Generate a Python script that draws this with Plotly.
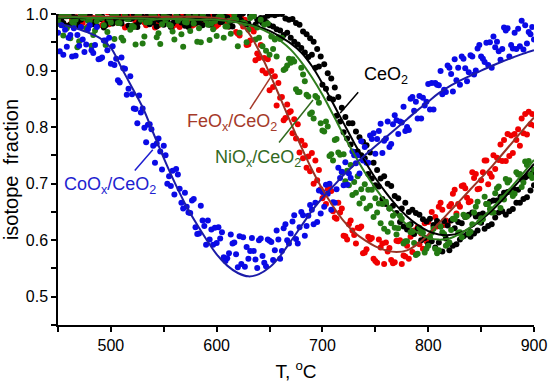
import plotly.graph_objects as go

# Temperatures (°C) of the three interleaved measurement grids and of the fit curves
T_A = list(range(450, 901, 5))
T_B = [round(t + 5 / 3, 2) for t in range(450, 900, 5)]
T_C = [round(t + 10 / 3, 2) for t in range(450, 900, 5)]
T_FIT = list(range(450, 901, 10))

# CoOx/CeO2 (blue)
BLUE_A = [.967, .928, .958, .975, .944, .933, .98, .945, .921, .953,
          .912, .921, .923, .857, .858, .807, .833, .804, .767, .78,
          .767, .713, .681, .691, .684, .648, .623, .661, .592, .619,
          .595, .614, .568, .594, .552, .605, .567, .581, .60, .56,
          .599, .582, .567, .628, .612, .602, .65, .625, .654, .632,
          .685, .682, .667, .728, .697, .718, .75, .718, .765, .785,
          .753, .806, .78, .77, .812, .808, .80, .853, .815, .852,
          .876, .831, .874, .866, .905, .92, .875, .904, .927, .90,
          .925, .949, .905, .951, .938, .975, .939, .974, .937, .968,
          .955]
BLUE_B = [.934, .972, .963, .926, .977, .946, .936, .977, .923, .936,
          .943, .883, .904, .868, .833, .856, .799, .805, .737, .757,
          .75, .696, .726, .666, .659, .67, .611, .635, .635, .592,
          .623, .57, .577, .596, .607, .553, .581, .566, .603, .554,
          .597, .617, .581, .60, .633, .594, .644, .643, .628, .688,
          .659, .70, .666, .71, .738, .71, .736, .775, .737, .779,
          .779, .754, .81, .805, .788, .836, .795, .829, .855, .838,
          .831, .878, .899, .862, .894, .883, .925, .881, .925, .939,
          .921, .91, .96, .934, .976, .925, .967, .943, .98, .964]
BLUE_C = [.98, .942, .925, .963, .955, .973, .931, .92, .953, .958,
          .91, .879, .903, .89, .832, .826, .773, .796, .771, .725,
          .70, .723, .716, .656, .649, .673, .612, .625, .601, .622,
          .603, .563, .61, .575, .558, .588, .604, .551, .572, .601,
          .565, .601, .621, .594, .644, .623, .608, .662, .666, .647,
          .698, .654, .69, .721, .698, .757, .75, .741, .737, .789,
          .793, .776, .765, .821, .81, .793, .85, .845, .815, .845,
          .878, .875, .858, .909, .863, .905, .921, .897, .893, .945,
          .915, .95, .941, .919, .971, .945, .938, .988, .948, .977]
BLUE_FIT = [.983, .979, .973, .966, .957, .94, .905, .87, .835, .79,
            .745, .703, .665, .632, .602, .575, .555, .542, .536, .54,
            .552, .572, .598, .625, .652, .675, .695, .715, .733, .75,
            .766, .782, .798, .814, .83, .845, .86, .872, .882, .891,
            .90, .908, .916, .923, .93, .936]

# FeOx/CeO2 (red)
RED_A = [.995, .983, 1.002, .988, .979, .997, .991, .985, 1.0, .981,
         .993, .987, .999, .978, .994, .989, 1.003, .984, .996, .98,
         .992, 1.001, .986, .977, .998, .99, .983, 1.0, .988, .995,
         .979, .997, .986, .998, .965, .978, .946, .969, .922, .922,
         .865, .89, .852, .816, .828, .78, .776, .728, .754, .706,
         .674, .69, .651, .666, .608, .628, .609, .621, .578, .601,
         .563, .587, .596, .565, .599, .558, .59, .579, .623, .585,
         .632, .624, .659, .627, .66, .689, .659, .692, .669, .717,
         .706, .741, .712, .746, .74, .788, .754, .796, .789, .827,
         .803]
RED_B = [.988, 1.001, .982, .994, .977, .999, .986, .992, .98, 1.003,
         .989, .984, .997, .978, .993, 1.0, .985, .991, .976, .998,
         .987, .995, .981, 1.002, .99, .979, .996, .984, .993, .999,
         .982, .988, .978, 1.0, .962, .99, .953, .918, .945, .895,
         .899, .838, .853, .84, .789, .805, .745, .748, .70, .724,
         .68, .695, .64, .649, .607, .635, .594, .624, .584, .604,
         .56, .594, .58, .559, .598, .573, .567, .617, .593, .63,
         .601, .641, .666, .635, .664, .647, .696, .675, .72, .69,
         .72, .699, .75, .742, .777, .749, .788, .767, .823, .805]
RED_C = [.981, .996, .99, 1.004, .984, .978, .993, .999, .987, .982,
         .997, .991, .976, 1.001, .986, .994, .98, .998, .989, .983,
         1.002, .978, .992, .996, .985, .981, 1.0, .988, .994, .977,
         .991, .997, 1.001, .968, .993, .945, .975, .93, .90, .92,
         .871, .878, .812, .826, .814, .755, .768, .722, .741, .69,
         .664, .687, .638, .656, .601, .617, .622, .577, .606, .567,
         .601, .558, .586, .561, .60, .571, .606, .575, .612, .598,
         .65, .624, .654, .629, .682, .664, .697, .667, .71, .691,
         .741, .718, .726, .769, .74, .785, .777, .815, .787, .823]
RED_FIT = [.995, .995, .995, .995, .995, .995, .995, .995, .995, .995,
           .995, .995, .995, .995, .994, .993, .99, .985, .967, .935,
           .895, .852, .808, .765, .725, .69, .66, .634, .614, .60,
           .589, .582, .579, .582, .593, .61, .63, .65, .67, .69,
           .71, .73, .752, .774, .796, .817]

# NiOx/CeO2 (green)
GREEN_A = [.99, .962, .997, .983, .952, 1.0, .988, .971, .994, .945,
           .985, .998, .958, .991, .979, .996, .948, .987, .993, .966,
           .999, .981, .955, .992, .986, .97, .997, .95, .989, .983,
           .961, .995, .978, .99, .943, .985, .972, .996, .958, .981,
           .928, .955, .956, .903, .914, .867, .905, .857, .826, .852,
           .794, .801, .741, .755, .752, .697, .703, .665, .699, .661,
           .674, .63, .668, .63, .61, .638, .598, .615, .576, .613,
           .59, .62, .582, .611, .596, .637, .614, .641, .615, .659,
           .639, .664, .649, .692, .674, .702, .678, .716, .702, .74,
           .725]
GREEN_B = [.982, .996, .957, .99, .999, .975, .944, .987, .993, .968,
           .998, .984, .953, .991, .977, 1.0, .96, .986, .995, .947,
           .989, .979, .997, .964, .985, .992, .951, .998, .981, .973,
           .994, .958, .988, .999, .967, .983, .993, .955, .99, .935,
           .96, .925, .958, .909, .92, .862, .893, .854, .815, .843,
           .792, .749, .777, .751, .704, .733, .684, .69, .656, .689,
           .649, .664, .615, .643, .621, .594, .627, .595, .622, .578,
           .605, .585, .624, .59, .618, .643, .605, .642, .628, .668,
           .637, .664, .649, .695, .672, .706, .682, .717, .739, .716]
GREEN_C = [.997, .975, .986, .941, .993, .988, .963, 1.0, .98, .991,
           .956, .984, .997, .972, .946, .99, .985, .999, .959, .982,
           .994, .969, .988, .942, .996, .983, .975, .992, .954, .987,
           .999, .978, .965, .99, .984, .95, .997, .976, .943, .983,
           .938, .959, .901, .921, .916, .862, .881, .823, .855, .807,
           .81, .752, .779, .72, .723, .68, .713, .674, .689, .641,
           .665, .62, .656, .622, .643, .598, .614, .574, .617, .585,
           .613, .577, .614, .593, .638, .613, .645, .612, .649, .632,
           .677, .655, .683, .657, .708, .685, .72, .694, .733, .71]
GREEN_FIT = [.994, .994, .994, .993, .993, .993, .992, .992, .992, .991,
             .991, .991, .991, .99, .99, .99, .988, .985, .981, .975,
             .966, .953, .937, .915, .888, .857, .822, .786, .752, .72,
             .692, .667, .645, .627, .613, .604, .601, .603, .611, .623,
             .638, .656, .676, .697, .719, .742]

# CeO2 (black)
BLACK_A = [.996, .984, 1.001, .989, .978, .994, .999, .986, .991, .98,
           1.003, .988, .983, .997, .992, .977, .995, 1.0, .985, .99,
           .981, .998, .987, .993, .979, 1.002, .984, .996, .989, .982,
           .999, .986, .994, .978, .991, 1.001, .983, .997, .988, .993,
           .98, .998, .971, .992, .958, .984, .94, .964, .928, .938,
           .875, .895, .849, .853, .791, .807, .756, .782, .745, .755,
           .697, .709, .664, .696, .648, .656, .619, .654, .62, .637,
           .593, .627, .596, .634, .582, .621, .601, .641, .606, .642,
           .631, .664, .628, .67, .651, .685, .655, .689, .673, .714,
           .697]
BLACK_B = [.987, .999, .981, .994, .99, 1.002, .984, .978, .996, .989,
           .983, .998, .992, .979, 1.0, .986, .993, .982, .997, .988,
           1.003, .977, .991, .985, .999, .983, .994, .98, .996, .987,
           .992, 1.001, .978, .989, .995, .984, .998, .981, .993, .986,
           .999, .973, 1.0, .967, .991, .946, .969, .924, .951, .907,
           .911, .851, .87, .81, .818, .769, .792, .75, .768, .709,
           .724, .673, .70, .661, .674, .624, .65, .611, .645, .604,
           .638, .587, .624, .603, .635, .593, .63, .61, .649, .617,
           .647, .625, .67, .649, .684, .651, .689, .666, .711, .688]
BLACK_C = [.993, .979, .997, .985, 1.002, .99, .982, .998, .976, .988,
           .995, .984, 1.0, .991, .98, .997, .987, .994, .978, 1.001,
           .989, .983, .996, .992, .977, .999, .985, .99, .981, .998,
           .986, .994, .979, 1.003, .988, .982, .996, .99, .984, .997,
           .978, 1.0, .963, .99, .951, .981, .932, .957, .905, .925,
           .868, .886, .82, .834, .78, .807, .757, .774, .717, .737,
           .695, .713, .656, .678, .632, .666, .628, .648, .60, .633,
           .598, .634, .58, .626, .59, .632, .607, .645, .612, .645,
           .62, .668, .64, .677, .645, .688, .666, .708, .676, .719]
BLACK_FIT = [.993, .993, .993, .993, .993, .992, .992, .992, .992, .992,
             .991, .991, .991, .991, .99, .99, .988, .986, .982, .977,
             .97, .96, .948, .932, .908, .877, .842, .807, .772, .74,
             .71, .684, .661, .642, .627, .616, .61, .609, .613, .622,
             .636, .652, .671, .692, .713, .735]

FONT = "Liberation Sans, Arial, Helvetica, sans-serif"

# drawing order: red, black, green, blue
series = [
    (RED_A, RED_B, RED_C, RED_FIT, "#f00000", "#9a3324"),
    (BLACK_A, BLACK_B, BLACK_C, BLACK_FIT, "#000000", "#000000"),
    (GREEN_A, GREEN_B, GREEN_C, GREEN_FIT, "#237a12", "#2e7d1c"),
    (BLUE_A, BLUE_B, BLUE_C, BLUE_FIT, "#0a0ae6", "#1c1ca8"),
]

fig = go.Figure()
for ya, yb, yc, yf, mcol, lcol in series:
    fig.add_trace(go.Scatter(x=T_A + T_B + T_C, y=ya + yb + yc, mode="markers",
                             marker=dict(color=mcol, size=6, line=dict(width=0)),
                             showlegend=False, hoverinfo="skip"))
for ya, yb, yc, yf, mcol, lcol in series:
    fig.add_trace(go.Scatter(x=T_FIT, y=yf, mode="lines",
                             line=dict(color=lcol, width=2, shape="spline"),
                             showlegend=False, hoverinfo="skip"))

# labels: (text, text x, text y, tip x, tip y, ax, ay, colour)
labels = [
    ("CoO<sub>x</sub>/CeO<sub>2</sub>", 453.4, 0.697, 539.6, 0.760, -20, 23, "#1f1fd0"),
    ("FeO<sub>x</sub>/CeO<sub>2</sub>", 569.9, 0.808, 652.3, 0.892, -24, 37, "#a53a2a"),
    ("NiO<sub>x</sub>/CeO<sub>2</sub>", 596.5, 0.745, 691.1, 0.848, -36, 45, "#336a1f"),
    ("CeO<sub>2</sub>", 737.6, 0.891, 716.8, 0.825, 20, -23, "#000000"),
]
for text, tx, ty, px, py, ax, ay, col in labels:
    fig.add_annotation(x=tx, y=ty, text=text, showarrow=False, xanchor="left",
                       yanchor="middle", font=dict(family=FONT, size=18, color=col))
    fig.add_annotation(x=px, y=py, text=" ", showarrow=True, arrowhead=0,
                       arrowwidth=1.5, arrowcolor=col, ax=ax, ay=ay,
                       font=dict(size=2))

axis_common = dict(showline=True, linecolor="black", linewidth=1.5, mirror=False,
                   ticks="outside", ticklen=5, tickwidth=1.5, tickcolor="black",
                   showgrid=False, zeroline=False,
                   tickfont=dict(family=FONT, size=16, color="black"))

fig.update_xaxes(range=[450, 900], dtick=100, tick0=500,
                 minor=dict(ticks="outside", ticklen=5, tickwidth=1.5, tickcolor="black", dtick=50, tick0=450),
                 title=dict(text="T, <sup>o</sup>C", font=dict(family=FONT, size=19, color="black"), standoff=12),
                 **axis_common)
fig.update_yaxes(range=[0.45, 1.0], dtick=0.1, tick0=0.5, tickformat=".1f",
                 minor=dict(ticks="outside", ticklen=5, tickwidth=1.5, tickcolor="black", dtick=0.05, tick0=0.45),
                 title=dict(text="isotope\u00a0\u00a0fraction", font=dict(family=FONT, size=20, color="black"), standoff=6),
                 **axis_common)

fig.update_layout(width=550, height=386, margin=dict(l=58, r=16, t=14, b=61, autoexpand=False),
                  plot_bgcolor="white", paper_bgcolor="white", showlegend=False)

fig.write_html("out.html", config={"displayModeBar": False})

# remove the browser's default page margin so the figure sits at the window origin
with open("out.html", encoding="utf-8") as f:
    html = f.read()
html = html.replace("<head>", "<head><style>html,body{margin:0;padding:0;overflow:hidden;}</style>", 1)
with open("out.html", "w", encoding="utf-8") as f:
    f.write(html)
